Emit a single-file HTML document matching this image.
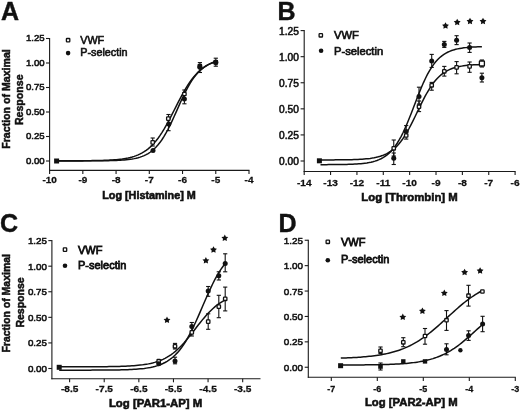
<!DOCTYPE html>
<html><head><meta charset="utf-8"><style>
html,body{margin:0;padding:0;background:#fff;width:520px;height:411px;overflow:hidden}
svg{display:block;will-change:transform}
text{font-family:"Liberation Sans", sans-serif;fill:#111;stroke:#111;stroke-width:0.3px}
</style></head><body>
<svg width="520" height="411" viewBox="0 0 520 411">
<rect width="520" height="411" fill="#fff"/>
<text x="1.00" y="20.00" font-size="25" font-weight="bold" text-anchor="start" style="stroke-width:0.4px">A</text>
<text x="277.50" y="19.80" font-size="25" font-weight="bold" text-anchor="start" style="stroke-width:0.4px">B</text>
<text x="0.00" y="232.30" font-size="25" font-weight="bold" text-anchor="start" style="stroke-width:0.4px">C</text>
<text x="278.50" y="231.50" font-size="25" font-weight="bold" text-anchor="start" style="stroke-width:0.4px">D</text>
<line x1="49.60" y1="38.00" x2="49.60" y2="170.90" stroke="#1a1a1a" stroke-width="1.1"/>
<line x1="46.00" y1="38.50" x2="49.60" y2="38.50" stroke="#1a1a1a" stroke-width="1.1"/>
<text x="44.60" y="41.16" font-size="9.6" font-weight="normal" text-anchor="end" style="stroke-width:0.55px">1.25</text>
<line x1="46.00" y1="63.00" x2="49.60" y2="63.00" stroke="#1a1a1a" stroke-width="1.1"/>
<text x="44.60" y="65.66" font-size="9.6" font-weight="normal" text-anchor="end" style="stroke-width:0.55px">1.00</text>
<line x1="46.00" y1="87.50" x2="49.60" y2="87.50" stroke="#1a1a1a" stroke-width="1.1"/>
<text x="44.60" y="90.16" font-size="9.6" font-weight="normal" text-anchor="end" style="stroke-width:0.55px">0.75</text>
<line x1="46.00" y1="112.00" x2="49.60" y2="112.00" stroke="#1a1a1a" stroke-width="1.1"/>
<text x="44.60" y="114.66" font-size="9.6" font-weight="normal" text-anchor="end" style="stroke-width:0.55px">0.50</text>
<line x1="46.00" y1="136.50" x2="49.60" y2="136.50" stroke="#1a1a1a" stroke-width="1.1"/>
<text x="44.60" y="139.16" font-size="9.6" font-weight="normal" text-anchor="end" style="stroke-width:0.55px">0.25</text>
<line x1="46.00" y1="161.00" x2="49.60" y2="161.00" stroke="#1a1a1a" stroke-width="1.1"/>
<text x="44.60" y="163.66" font-size="9.6" font-weight="normal" text-anchor="end" style="stroke-width:0.55px">0.00</text>
<line x1="49.10" y1="170.40" x2="249.50" y2="170.40" stroke="#1a1a1a" stroke-width="1.1"/>
<line x1="49.60" y1="170.40" x2="49.60" y2="174.00" stroke="#1a1a1a" stroke-width="1.1"/>
<text transform="translate(49.60,183.30) scale(1,0.86)" font-size="10.0" font-weight="bold" text-anchor="middle">-10</text>
<line x1="82.83" y1="170.40" x2="82.83" y2="174.00" stroke="#1a1a1a" stroke-width="1.1"/>
<text transform="translate(82.83,183.30) scale(1,0.86)" font-size="10.0" font-weight="bold" text-anchor="middle">-9</text>
<line x1="116.07" y1="170.40" x2="116.07" y2="174.00" stroke="#1a1a1a" stroke-width="1.1"/>
<text transform="translate(116.07,183.30) scale(1,0.86)" font-size="10.0" font-weight="bold" text-anchor="middle">-8</text>
<line x1="149.30" y1="170.40" x2="149.30" y2="174.00" stroke="#1a1a1a" stroke-width="1.1"/>
<text transform="translate(149.30,183.30) scale(1,0.86)" font-size="10.0" font-weight="bold" text-anchor="middle">-7</text>
<line x1="182.53" y1="170.40" x2="182.53" y2="174.00" stroke="#1a1a1a" stroke-width="1.1"/>
<text transform="translate(182.53,183.30) scale(1,0.86)" font-size="10.0" font-weight="bold" text-anchor="middle">-6</text>
<line x1="215.77" y1="170.40" x2="215.77" y2="174.00" stroke="#1a1a1a" stroke-width="1.1"/>
<text transform="translate(215.77,183.30) scale(1,0.86)" font-size="10.0" font-weight="bold" text-anchor="middle">-5</text>
<line x1="249.00" y1="170.40" x2="249.00" y2="174.00" stroke="#1a1a1a" stroke-width="1.1"/>
<text transform="translate(249.00,183.30) scale(1,0.86)" font-size="10.0" font-weight="bold" text-anchor="middle">-4</text>
<text transform="translate(10.2,99.0) rotate(-90)" font-size="10.6" font-weight="bold" text-anchor="middle" style="stroke-width:0.5px">Fraction of Maximal</text>
<text transform="translate(23.0,99.8) rotate(-90)" font-size="10.6" font-weight="bold" text-anchor="middle" style="stroke-width:0.5px">Response</text>
<text x="149.00" y="198.80" font-size="10.8" font-weight="bold" text-anchor="middle" style="stroke-width:0.6px">Log [Histamine] M</text>
<rect x="66.40" y="38.50" width="3.4" height="3.4" rx="0.6" fill="#fff" stroke="#111" stroke-width="1.3"/>
<circle cx="68.10" cy="53.10" r="2.3" fill="#111"/>
<text x="80.20" y="43.60" font-size="10.8" font-weight="normal" text-anchor="start" style="stroke-width:0.6px">VWF</text>
<text x="80.20" y="56.00" font-size="10.8" font-weight="normal" text-anchor="start" style="stroke-width:0.6px">P-selectin</text>
<path d="M56.60,160.79 L58.59,160.79 L60.58,160.78 L62.57,160.78 L64.56,160.78 L66.55,160.77 L68.54,160.77 L70.53,160.76 L72.52,160.76 L74.51,160.75 L76.50,160.74 L78.49,160.73 L80.48,160.72 L82.47,160.71 L84.46,160.70 L86.45,160.68 L88.44,160.66 L90.43,160.64 L92.42,160.61 L94.41,160.58 L96.40,160.54 L98.39,160.50 L100.38,160.45 L102.37,160.39 L104.36,160.33 L106.35,160.25 L108.34,160.16 L110.33,160.06 L112.32,159.94 L114.31,159.80 L116.30,159.63 L118.29,159.44 L120.28,159.22 L122.27,158.97 L124.26,158.67 L126.25,158.33 L128.24,157.94 L130.23,157.48 L132.22,156.96 L134.21,156.35 L136.20,155.65 L138.19,154.86 L140.18,153.94 L142.17,152.90 L144.16,151.72 L146.15,150.38 L148.14,148.86 L150.13,147.15 L152.12,145.25 L154.11,143.12 L156.10,140.78 L158.09,138.21 L160.08,135.40 L162.07,132.37 L164.06,129.13 L166.05,125.68 L168.04,122.07 L170.03,118.31 L172.02,114.45 L174.01,110.53 L176.00,106.59 L177.99,102.68 L179.98,98.84 L181.97,95.11 L183.96,91.54 L185.95,88.14 L187.94,84.94 L189.93,81.97 L191.92,79.22 L193.91,76.70 L195.90,74.40 L197.89,72.33 L199.88,70.48 L201.87,68.82 L203.86,67.34 L205.85,66.04 L207.84,64.89 L209.83,63.88 L211.82,62.99 L213.81,62.22 L215.80,61.55" fill="none" stroke="#111" stroke-width="1.5"/>
<path d="M56.60,160.90 L58.59,160.90 L60.58,160.90 L62.57,160.90 L64.56,160.89 L66.55,160.89 L68.54,160.89 L70.53,160.89 L72.52,160.89 L74.51,160.89 L76.50,160.89 L78.49,160.88 L80.48,160.88 L82.47,160.88 L84.46,160.87 L86.45,160.87 L88.44,160.86 L90.43,160.85 L92.42,160.84 L94.41,160.83 L96.40,160.82 L98.39,160.80 L100.38,160.78 L102.37,160.76 L104.36,160.73 L106.35,160.70 L108.34,160.66 L110.33,160.62 L112.32,160.56 L114.31,160.50 L116.30,160.42 L118.29,160.33 L120.28,160.22 L122.27,160.10 L124.26,159.94 L126.25,159.76 L128.24,159.55 L130.23,159.29 L132.22,158.99 L134.21,158.63 L136.20,158.21 L138.19,157.71 L140.18,157.12 L142.17,156.42 L144.16,155.61 L146.15,154.66 L148.14,153.55 L150.13,152.26 L152.12,150.76 L154.11,149.04 L156.10,147.08 L158.09,144.84 L160.08,142.33 L162.07,139.51 L164.06,136.39 L166.05,132.97 L168.04,129.27 L170.03,125.31 L172.02,121.14 L174.01,116.80 L176.00,112.35 L177.99,107.86 L179.98,103.39 L181.97,99.02 L183.96,94.81 L185.95,90.80 L187.94,87.05 L189.93,83.57 L191.92,80.39 L193.91,77.51 L195.90,74.93 L197.89,72.64 L199.88,70.62 L201.87,68.85 L203.86,67.31 L205.85,65.98 L207.84,64.84 L209.83,63.86 L211.82,63.01 L213.81,62.30 L215.80,61.69" fill="none" stroke="#111" stroke-width="1.5"/>
<rect x="54.10" y="158.50" width="5" height="5" fill="#111"/>
<line x1="152.70" y1="138.00" x2="152.70" y2="146.00" stroke="#111" stroke-width="1.1"/>
<line x1="150.60" y1="138.00" x2="154.80" y2="138.00" stroke="#111" stroke-width="1.1"/>
<line x1="150.60" y1="146.00" x2="154.80" y2="146.00" stroke="#111" stroke-width="1.1"/>
<rect x="151.00" y="140.70" width="3.4" height="3.4" rx="0.6" fill="#fff" stroke="#111" stroke-width="1.3"/>
<circle cx="153.00" cy="150.60" r="2.5" fill="#111"/>
<line x1="168.50" y1="114.50" x2="168.50" y2="130.70" stroke="#111" stroke-width="1.1"/>
<line x1="166.40" y1="114.50" x2="170.60" y2="114.50" stroke="#111" stroke-width="1.1"/>
<line x1="166.40" y1="130.70" x2="170.60" y2="130.70" stroke="#111" stroke-width="1.1"/>
<rect x="166.60" y="116.90" width="3.4" height="3.4" rx="0.6" fill="#fff" stroke="#111" stroke-width="1.3"/>
<circle cx="168.80" cy="123.90" r="2.5" fill="#111"/>
<line x1="184.40" y1="90.00" x2="184.40" y2="103.80" stroke="#111" stroke-width="1.1"/>
<line x1="182.30" y1="90.00" x2="186.50" y2="90.00" stroke="#111" stroke-width="1.1"/>
<line x1="182.30" y1="103.80" x2="186.50" y2="103.80" stroke="#111" stroke-width="1.1"/>
<rect x="182.70" y="92.30" width="3.4" height="3.4" rx="0.6" fill="#fff" stroke="#111" stroke-width="1.3"/>
<circle cx="184.40" cy="99.00" r="2.5" fill="#111"/>
<line x1="199.90" y1="62.60" x2="199.90" y2="72.50" stroke="#111" stroke-width="1.1"/>
<line x1="197.80" y1="62.60" x2="202.00" y2="62.60" stroke="#111" stroke-width="1.1"/>
<line x1="197.80" y1="72.50" x2="202.00" y2="72.50" stroke="#111" stroke-width="1.1"/>
<rect x="198.20" y="64.30" width="3.4" height="3.4" rx="0.6" fill="#fff" stroke="#111" stroke-width="1.3"/>
<circle cx="199.90" cy="67.20" r="2.5" fill="#111"/>
<rect x="197.80" y="64.50" width="4.2" height="4.2" fill="#111"/>
<line x1="215.80" y1="58.20" x2="215.80" y2="66.20" stroke="#111" stroke-width="1.1"/>
<line x1="213.70" y1="58.20" x2="217.90" y2="58.20" stroke="#111" stroke-width="1.1"/>
<line x1="213.70" y1="66.20" x2="217.90" y2="66.20" stroke="#111" stroke-width="1.1"/>
<rect x="214.10" y="60.50" width="3.4" height="3.4" rx="0.6" fill="#fff" stroke="#111" stroke-width="1.3"/>
<circle cx="215.80" cy="62.40" r="2.5" fill="#111"/>
<rect x="213.70" y="60.20" width="4.2" height="4.2" fill="#111"/>
<line x1="304.20" y1="30.10" x2="304.20" y2="172.00" stroke="#1a1a1a" stroke-width="1.1"/>
<line x1="300.60" y1="30.60" x2="304.20" y2="30.60" stroke="#1a1a1a" stroke-width="1.1"/>
<text x="298.90" y="35.07" font-size="10.2" font-weight="normal" text-anchor="end" style="stroke-width:0.55px">1.25</text>
<line x1="300.60" y1="56.68" x2="304.20" y2="56.68" stroke="#1a1a1a" stroke-width="1.1"/>
<text x="298.90" y="61.15" font-size="10.2" font-weight="normal" text-anchor="end" style="stroke-width:0.55px">1.00</text>
<line x1="300.60" y1="82.76" x2="304.20" y2="82.76" stroke="#1a1a1a" stroke-width="1.1"/>
<text x="298.90" y="87.23" font-size="10.2" font-weight="normal" text-anchor="end" style="stroke-width:0.55px">0.75</text>
<line x1="300.60" y1="108.84" x2="304.20" y2="108.84" stroke="#1a1a1a" stroke-width="1.1"/>
<text x="298.90" y="113.31" font-size="10.2" font-weight="normal" text-anchor="end" style="stroke-width:0.55px">0.50</text>
<line x1="300.60" y1="134.92" x2="304.20" y2="134.92" stroke="#1a1a1a" stroke-width="1.1"/>
<text x="298.90" y="139.39" font-size="10.2" font-weight="normal" text-anchor="end" style="stroke-width:0.55px">0.25</text>
<line x1="300.60" y1="161.00" x2="304.20" y2="161.00" stroke="#1a1a1a" stroke-width="1.1"/>
<text x="298.90" y="165.47" font-size="10.2" font-weight="normal" text-anchor="end" style="stroke-width:0.55px">0.00</text>
<line x1="303.70" y1="171.50" x2="515.60" y2="171.50" stroke="#1a1a1a" stroke-width="1.1"/>
<line x1="304.20" y1="171.50" x2="304.20" y2="175.10" stroke="#1a1a1a" stroke-width="1.1"/>
<text transform="translate(304.20,186.20) scale(1,0.86)" font-size="10.1" font-weight="bold" text-anchor="middle">-14</text>
<line x1="330.56" y1="171.50" x2="330.56" y2="175.10" stroke="#1a1a1a" stroke-width="1.1"/>
<text transform="translate(330.56,186.20) scale(1,0.86)" font-size="10.1" font-weight="bold" text-anchor="middle">-13</text>
<line x1="356.93" y1="171.50" x2="356.93" y2="175.10" stroke="#1a1a1a" stroke-width="1.1"/>
<text transform="translate(356.93,186.20) scale(1,0.86)" font-size="10.1" font-weight="bold" text-anchor="middle">-12</text>
<line x1="383.29" y1="171.50" x2="383.29" y2="175.10" stroke="#1a1a1a" stroke-width="1.1"/>
<text transform="translate(383.29,186.20) scale(1,0.86)" font-size="10.1" font-weight="bold" text-anchor="middle">-11</text>
<line x1="409.65" y1="171.50" x2="409.65" y2="175.10" stroke="#1a1a1a" stroke-width="1.1"/>
<text transform="translate(409.65,186.20) scale(1,0.86)" font-size="10.1" font-weight="bold" text-anchor="middle">-10</text>
<line x1="436.01" y1="171.50" x2="436.01" y2="175.10" stroke="#1a1a1a" stroke-width="1.1"/>
<text transform="translate(436.01,186.20) scale(1,0.86)" font-size="10.1" font-weight="bold" text-anchor="middle">-9</text>
<line x1="462.38" y1="171.50" x2="462.38" y2="175.10" stroke="#1a1a1a" stroke-width="1.1"/>
<text transform="translate(462.38,186.20) scale(1,0.86)" font-size="10.1" font-weight="bold" text-anchor="middle">-8</text>
<line x1="488.74" y1="171.50" x2="488.74" y2="175.10" stroke="#1a1a1a" stroke-width="1.1"/>
<text transform="translate(488.74,186.20) scale(1,0.86)" font-size="10.1" font-weight="bold" text-anchor="middle">-7</text>
<line x1="515.10" y1="171.50" x2="515.10" y2="175.10" stroke="#1a1a1a" stroke-width="1.1"/>
<text transform="translate(515.10,186.20) scale(1,0.86)" font-size="10.1" font-weight="bold" text-anchor="middle">-6</text>
<text x="409.50" y="200.60" font-size="11.35" font-weight="bold" text-anchor="middle" style="stroke-width:0.6px">Log [Thrombin] M</text>
<rect x="319.10" y="33.60" width="3.4" height="3.4" rx="0.6" fill="#fff" stroke="#111" stroke-width="1.3"/>
<circle cx="321.10" cy="50.80" r="2.3" fill="#111"/>
<text x="334.00" y="39.40" font-size="11.2" font-weight="normal" text-anchor="start" style="stroke-width:0.7px">VWF</text>
<text x="334.00" y="54.60" font-size="11.2" font-weight="normal" text-anchor="start" style="stroke-width:0.7px">P-selectin</text>
<path d="M319.40,159.93 L321.43,159.93 L323.46,159.92 L325.49,159.92 L327.52,159.91 L329.56,159.90 L331.59,159.90 L333.62,159.88 L335.65,159.87 L337.68,159.86 L339.71,159.84 L341.74,159.82 L343.77,159.79 L345.81,159.76 L347.84,159.73 L349.87,159.68 L351.90,159.63 L353.93,159.57 L355.96,159.49 L357.99,159.41 L360.02,159.30 L362.06,159.18 L364.09,159.03 L366.12,158.85 L368.15,158.64 L370.18,158.40 L372.21,158.10 L374.24,157.75 L376.27,157.33 L378.31,156.84 L380.34,156.27 L382.37,155.58 L384.40,154.78 L386.43,153.85 L388.46,152.75 L390.49,151.48 L392.52,150.01 L394.56,148.32 L396.59,146.39 L398.62,144.19 L400.65,141.72 L402.68,138.96 L404.71,135.92 L406.74,132.59 L408.77,129.00 L410.81,125.18 L412.84,121.17 L414.87,117.03 L416.90,112.80 L418.93,108.57 L420.96,104.39 L422.99,100.32 L425.02,96.43 L427.06,92.75 L429.09,89.33 L431.12,86.18 L433.15,83.32 L435.18,80.75 L437.21,78.46 L439.24,76.44 L441.27,74.66 L443.31,73.11 L445.34,71.77 L447.37,70.62 L449.40,69.63 L451.43,68.78 L453.46,68.06 L455.49,67.45 L457.52,66.93 L459.56,66.49 L461.59,66.12 L463.62,65.80 L465.65,65.54 L467.68,65.32 L469.71,65.13 L471.74,64.97 L473.77,64.84 L475.81,64.73 L477.84,64.63 L479.87,64.56 L481.90,64.49" fill="none" stroke="#111" stroke-width="1.5"/>
<path d="M320.50,164.65 L322.52,164.64 L324.54,164.64 L326.55,164.63 L328.57,164.62 L330.59,164.61 L332.61,164.59 L334.62,164.58 L336.64,164.56 L338.66,164.53 L340.68,164.50 L342.69,164.47 L344.71,164.43 L346.73,164.38 L348.75,164.32 L350.76,164.25 L352.78,164.17 L354.80,164.07 L356.81,163.95 L358.83,163.80 L360.85,163.63 L362.87,163.43 L364.88,163.19 L366.90,162.91 L368.92,162.57 L370.94,162.16 L372.95,161.68 L374.97,161.11 L376.99,160.44 L379.01,159.65 L381.02,158.72 L383.04,157.62 L385.06,156.34 L387.08,154.85 L389.10,153.12 L391.11,151.12 L393.13,148.82 L395.15,146.21 L397.16,143.26 L399.18,139.95 L401.20,136.28 L403.22,132.25 L405.24,127.89 L407.25,123.22 L409.27,118.30 L411.29,113.19 L413.30,107.95 L415.32,102.68 L417.34,97.45 L419.36,92.35 L421.38,87.45 L423.39,82.81 L425.41,78.47 L427.43,74.47 L429.44,70.83 L431.46,67.55 L433.48,64.63 L435.50,62.04 L437.51,59.78 L439.53,57.80 L441.55,56.09 L443.57,54.61 L445.58,53.35 L447.60,52.27 L449.62,51.35 L451.64,50.57 L453.65,49.91 L455.67,49.35 L457.69,48.87 L459.71,48.47 L461.72,48.14 L463.74,47.86 L465.76,47.62 L467.78,47.42 L469.79,47.25 L471.81,47.11 L473.83,47.00 L475.85,46.90 L477.87,46.81 L479.88,46.75 L481.90,46.69" fill="none" stroke="#111" stroke-width="1.5"/>
<rect x="316.90" y="158.30" width="5" height="5" fill="#111"/>
<line x1="393.75" y1="140.00" x2="393.75" y2="156.00" stroke="#111" stroke-width="1.1"/>
<line x1="391.65" y1="140.00" x2="395.85" y2="140.00" stroke="#111" stroke-width="1.1"/>
<line x1="391.65" y1="156.00" x2="395.85" y2="156.00" stroke="#111" stroke-width="1.1"/>
<line x1="393.75" y1="153.00" x2="393.75" y2="164.50" stroke="#111" stroke-width="1.1"/>
<line x1="391.65" y1="153.00" x2="395.85" y2="153.00" stroke="#111" stroke-width="1.1"/>
<line x1="391.65" y1="164.50" x2="395.85" y2="164.50" stroke="#111" stroke-width="1.1"/>
<rect x="392.05" y="146.60" width="3.4" height="3.4" rx="0.6" fill="#fff" stroke="#111" stroke-width="1.3"/>
<circle cx="393.75" cy="158.20" r="2.5" fill="#111"/>
<line x1="406.20" y1="125.60" x2="406.20" y2="139.10" stroke="#111" stroke-width="1.1"/>
<line x1="404.10" y1="125.60" x2="408.30" y2="125.60" stroke="#111" stroke-width="1.1"/>
<line x1="404.10" y1="139.10" x2="408.30" y2="139.10" stroke="#111" stroke-width="1.1"/>
<rect x="404.50" y="133.80" width="3.4" height="3.4" rx="0.6" fill="#fff" stroke="#111" stroke-width="1.3"/>
<circle cx="406.20" cy="131.50" r="2.5" fill="#111"/>
<line x1="419.00" y1="87.20" x2="419.00" y2="104.00" stroke="#111" stroke-width="1.1"/>
<line x1="416.90" y1="87.20" x2="421.10" y2="87.20" stroke="#111" stroke-width="1.1"/>
<line x1="416.90" y1="104.00" x2="421.10" y2="104.00" stroke="#111" stroke-width="1.1"/>
<circle cx="419.00" cy="96.60" r="2.5" fill="#111"/>
<line x1="419.00" y1="101.00" x2="419.00" y2="111.60" stroke="#111" stroke-width="1.1"/>
<line x1="416.90" y1="101.00" x2="421.10" y2="101.00" stroke="#111" stroke-width="1.1"/>
<line x1="416.90" y1="111.60" x2="421.10" y2="111.60" stroke="#111" stroke-width="1.1"/>
<rect x="417.30" y="105.00" width="3.4" height="3.4" rx="0.6" fill="#fff" stroke="#111" stroke-width="1.3"/>
<line x1="431.70" y1="54.40" x2="431.70" y2="67.40" stroke="#111" stroke-width="1.1"/>
<line x1="429.60" y1="54.40" x2="433.80" y2="54.40" stroke="#111" stroke-width="1.1"/>
<line x1="429.60" y1="67.40" x2="433.80" y2="67.40" stroke="#111" stroke-width="1.1"/>
<circle cx="431.70" cy="61.00" r="2.5" fill="#111"/>
<line x1="431.70" y1="82.40" x2="431.70" y2="90.20" stroke="#111" stroke-width="1.1"/>
<line x1="429.60" y1="82.40" x2="433.80" y2="82.40" stroke="#111" stroke-width="1.1"/>
<line x1="429.60" y1="90.20" x2="433.80" y2="90.20" stroke="#111" stroke-width="1.1"/>
<rect x="430.00" y="83.60" width="3.4" height="3.4" rx="0.6" fill="#fff" stroke="#111" stroke-width="1.3"/>
<line x1="444.30" y1="41.40" x2="444.30" y2="47.40" stroke="#111" stroke-width="1.1"/>
<line x1="442.20" y1="41.40" x2="446.40" y2="41.40" stroke="#111" stroke-width="1.1"/>
<line x1="442.20" y1="47.40" x2="446.40" y2="47.40" stroke="#111" stroke-width="1.1"/>
<circle cx="444.30" cy="44.40" r="2.5" fill="#111"/>
<line x1="444.30" y1="66.40" x2="444.30" y2="76.10" stroke="#111" stroke-width="1.1"/>
<line x1="442.20" y1="66.40" x2="446.40" y2="66.40" stroke="#111" stroke-width="1.1"/>
<line x1="442.20" y1="76.10" x2="446.40" y2="76.10" stroke="#111" stroke-width="1.1"/>
<rect x="442.60" y="69.60" width="3.4" height="3.4" rx="0.6" fill="#fff" stroke="#111" stroke-width="1.3"/>
<line x1="456.60" y1="35.70" x2="456.60" y2="44.60" stroke="#111" stroke-width="1.1"/>
<line x1="454.50" y1="35.70" x2="458.70" y2="35.70" stroke="#111" stroke-width="1.1"/>
<line x1="454.50" y1="44.60" x2="458.70" y2="44.60" stroke="#111" stroke-width="1.1"/>
<circle cx="456.60" cy="40.20" r="2.5" fill="#111"/>
<line x1="456.60" y1="61.60" x2="456.60" y2="73.80" stroke="#111" stroke-width="1.1"/>
<line x1="454.50" y1="61.60" x2="458.70" y2="61.60" stroke="#111" stroke-width="1.1"/>
<line x1="454.50" y1="73.80" x2="458.70" y2="73.80" stroke="#111" stroke-width="1.1"/>
<rect x="454.90" y="65.70" width="3.4" height="3.4" rx="0.6" fill="#fff" stroke="#111" stroke-width="1.3"/>
<line x1="469.60" y1="43.00" x2="469.60" y2="52.40" stroke="#111" stroke-width="1.1"/>
<line x1="467.50" y1="43.00" x2="471.70" y2="43.00" stroke="#111" stroke-width="1.1"/>
<line x1="467.50" y1="52.40" x2="471.70" y2="52.40" stroke="#111" stroke-width="1.1"/>
<circle cx="469.60" cy="47.50" r="2.5" fill="#111"/>
<line x1="469.60" y1="62.00" x2="469.60" y2="72.30" stroke="#111" stroke-width="1.1"/>
<line x1="467.50" y1="62.00" x2="471.70" y2="62.00" stroke="#111" stroke-width="1.1"/>
<line x1="467.50" y1="72.30" x2="471.70" y2="72.30" stroke="#111" stroke-width="1.1"/>
<rect x="467.90" y="64.70" width="3.4" height="3.4" rx="0.6" fill="#fff" stroke="#111" stroke-width="1.3"/>
<line x1="481.90" y1="73.20" x2="481.90" y2="82.00" stroke="#111" stroke-width="1.1"/>
<line x1="479.80" y1="73.20" x2="484.00" y2="73.20" stroke="#111" stroke-width="1.1"/>
<line x1="479.80" y1="82.00" x2="484.00" y2="82.00" stroke="#111" stroke-width="1.1"/>
<circle cx="481.90" cy="77.70" r="2.5" fill="#111"/>
<line x1="481.90" y1="60.00" x2="481.90" y2="67.00" stroke="#111" stroke-width="1.1"/>
<line x1="479.80" y1="60.00" x2="484.00" y2="60.00" stroke="#111" stroke-width="1.1"/>
<line x1="479.80" y1="67.00" x2="484.00" y2="67.00" stroke="#111" stroke-width="1.1"/>
<rect x="479.40" y="61.00" width="5" height="5" rx="0.6" fill="#fff" stroke="#111" stroke-width="1.3"/>
<polygon points="445.50,22.20 446.62,24.26 448.92,24.69 447.31,26.39 447.62,28.71 445.50,27.70 443.38,28.71 443.69,26.39 442.08,24.69 444.38,24.26" fill="#111"/>
<polygon points="457.20,18.80 458.32,20.86 460.62,21.29 459.01,22.99 459.32,25.31 457.20,24.30 455.08,25.31 455.39,22.99 453.78,21.29 456.08,20.86" fill="#111"/>
<polygon points="470.00,17.80 471.12,19.86 473.42,20.29 471.81,21.99 472.12,24.31 470.00,23.30 467.88,24.31 468.19,21.99 466.58,20.29 468.88,19.86" fill="#111"/>
<polygon points="483.00,17.80 484.12,19.86 486.42,20.29 484.81,21.99 485.12,24.31 483.00,23.30 480.88,24.31 481.19,21.99 479.58,20.29 481.88,19.86" fill="#111"/>
<line x1="51.90" y1="240.10" x2="51.90" y2="379.20" stroke="#1a1a1a" stroke-width="1.1"/>
<line x1="48.30" y1="240.60" x2="51.90" y2="240.60" stroke="#1a1a1a" stroke-width="1.1"/>
<text x="47.00" y="244.13" font-size="9.8" font-weight="normal" text-anchor="end" style="stroke-width:0.55px">1.25</text>
<line x1="48.30" y1="266.18" x2="51.90" y2="266.18" stroke="#1a1a1a" stroke-width="1.1"/>
<text x="47.00" y="269.71" font-size="9.8" font-weight="normal" text-anchor="end" style="stroke-width:0.55px">1.00</text>
<line x1="48.30" y1="291.76" x2="51.90" y2="291.76" stroke="#1a1a1a" stroke-width="1.1"/>
<text x="47.00" y="295.29" font-size="9.8" font-weight="normal" text-anchor="end" style="stroke-width:0.55px">0.75</text>
<line x1="48.30" y1="317.34" x2="51.90" y2="317.34" stroke="#1a1a1a" stroke-width="1.1"/>
<text x="47.00" y="320.87" font-size="9.8" font-weight="normal" text-anchor="end" style="stroke-width:0.55px">0.50</text>
<line x1="48.30" y1="342.92" x2="51.90" y2="342.92" stroke="#1a1a1a" stroke-width="1.1"/>
<text x="47.00" y="346.45" font-size="9.8" font-weight="normal" text-anchor="end" style="stroke-width:0.55px">0.25</text>
<line x1="48.30" y1="368.50" x2="51.90" y2="368.50" stroke="#1a1a1a" stroke-width="1.1"/>
<text x="47.00" y="372.03" font-size="9.8" font-weight="normal" text-anchor="end" style="stroke-width:0.55px">0.00</text>
<line x1="51.40" y1="378.70" x2="260.50" y2="378.70" stroke="#1a1a1a" stroke-width="1.1"/>
<line x1="69.61" y1="378.70" x2="69.61" y2="382.30" stroke="#1a1a1a" stroke-width="1.1"/>
<text transform="translate(69.61,392.00) scale(1,0.86)" font-size="10.1" font-weight="bold" text-anchor="middle">-8.5</text>
<line x1="104.22" y1="378.70" x2="104.22" y2="382.30" stroke="#1a1a1a" stroke-width="1.1"/>
<text transform="translate(104.22,392.00) scale(1,0.86)" font-size="10.1" font-weight="bold" text-anchor="middle">-7.5</text>
<line x1="138.84" y1="378.70" x2="138.84" y2="382.30" stroke="#1a1a1a" stroke-width="1.1"/>
<text transform="translate(138.84,392.00) scale(1,0.86)" font-size="10.1" font-weight="bold" text-anchor="middle">-6.5</text>
<line x1="173.46" y1="378.70" x2="173.46" y2="382.30" stroke="#1a1a1a" stroke-width="1.1"/>
<text transform="translate(173.46,392.00) scale(1,0.86)" font-size="10.1" font-weight="bold" text-anchor="middle">-5.5</text>
<line x1="208.07" y1="378.70" x2="208.07" y2="382.30" stroke="#1a1a1a" stroke-width="1.1"/>
<text transform="translate(208.07,392.00) scale(1,0.86)" font-size="10.1" font-weight="bold" text-anchor="middle">-4.5</text>
<line x1="242.69" y1="378.70" x2="242.69" y2="382.30" stroke="#1a1a1a" stroke-width="1.1"/>
<text transform="translate(242.69,392.00) scale(1,0.86)" font-size="10.1" font-weight="bold" text-anchor="middle">-3.5</text>
<text transform="translate(10.4,303.3) rotate(-90)" font-size="10.5" font-weight="bold" text-anchor="middle" style="stroke-width:0.5px">Fraction of Maximal</text>
<text transform="translate(24,302.5) rotate(-90)" font-size="10.5" font-weight="bold" text-anchor="middle" style="stroke-width:0.5px">Response</text>
<text x="155.60" y="406.60" font-size="11.4" font-weight="bold" text-anchor="middle" style="stroke-width:0.6px">Log [PAR1-AP] M</text>
<rect x="63.30" y="247.90" width="3.4" height="3.4" rx="0.6" fill="#fff" stroke="#111" stroke-width="1.3"/>
<circle cx="65.00" cy="265.80" r="2.3" fill="#111"/>
<text x="78.00" y="253.80" font-size="11.0" font-weight="normal" text-anchor="start" style="stroke-width:0.8px">VWF</text>
<text x="78.00" y="269.20" font-size="11.0" font-weight="normal" text-anchor="start" style="stroke-width:0.8px">P-selectin</text>
<path d="M59.20,366.80 L61.28,366.80 L63.35,366.80 L65.42,366.80 L67.50,366.80 L69.58,366.80 L71.65,366.79 L73.73,366.79 L75.80,366.79 L77.88,366.79 L79.95,366.78 L82.03,366.78 L84.10,366.77 L86.18,366.77 L88.25,366.76 L90.33,366.75 L92.40,366.75 L94.47,366.74 L96.55,366.72 L98.62,366.71 L100.70,366.70 L102.78,366.68 L104.85,366.66 L106.93,366.63 L109.00,366.61 L111.08,366.58 L113.15,366.54 L115.22,366.50 L117.30,366.45 L119.38,366.40 L121.45,366.34 L123.53,366.26 L125.60,366.18 L127.67,366.08 L129.75,365.97 L131.82,365.85 L133.90,365.70 L135.98,365.54 L138.05,365.34 L140.12,365.12 L142.20,364.87 L144.28,364.58 L146.35,364.25 L148.43,363.88 L150.50,363.45 L152.57,362.96 L154.65,362.40 L156.73,361.77 L158.80,361.06 L160.88,360.25 L162.95,359.35 L165.03,358.33 L167.10,357.20 L169.18,355.94 L171.25,354.55 L173.32,353.01 L175.40,351.33 L177.48,349.50 L179.55,347.53 L181.62,345.41 L183.70,343.16 L185.78,340.79 L187.85,338.31 L189.93,335.74 L192.00,333.11 L194.07,330.44 L196.15,327.75 L198.23,325.08 L200.30,322.45 L202.38,319.88 L204.45,317.41 L206.52,315.04 L208.60,312.79 L210.68,310.68 L212.75,308.71 L214.82,306.89 L216.90,305.21 L218.98,303.68 L221.05,302.29 L223.12,301.03 L225.20,299.90" fill="none" stroke="#111" stroke-width="1.5"/>
<path d="M59.20,370.16 L61.28,370.16 L63.35,370.16 L65.42,370.15 L67.50,370.15 L69.58,370.15 L71.65,370.15 L73.73,370.15 L75.80,370.15 L77.88,370.15 L79.95,370.14 L82.03,370.14 L84.10,370.14 L86.18,370.14 L88.25,370.13 L90.33,370.13 L92.40,370.12 L94.47,370.11 L96.55,370.11 L98.62,370.10 L100.70,370.09 L102.78,370.08 L104.85,370.06 L106.93,370.05 L109.00,370.03 L111.08,370.01 L113.15,369.98 L115.22,369.95 L117.30,369.92 L119.38,369.88 L121.45,369.83 L123.53,369.78 L125.60,369.71 L127.67,369.64 L129.75,369.56 L131.82,369.46 L133.90,369.34 L135.98,369.21 L138.05,369.05 L140.12,368.87 L142.20,368.66 L144.28,368.42 L146.35,368.13 L148.43,367.80 L150.50,367.42 L152.57,366.98 L154.65,366.48 L156.73,365.89 L158.80,365.21 L160.88,364.43 L162.95,363.54 L165.03,362.51 L167.10,361.34 L169.18,360.00 L171.25,358.47 L173.32,356.75 L175.40,354.81 L177.48,352.63 L179.55,350.19 L181.62,347.49 L183.70,344.51 L185.78,341.24 L187.85,337.70 L189.93,333.88 L192.00,329.81 L194.07,325.50 L196.15,321.00 L198.23,316.35 L200.30,311.58 L202.38,306.77 L204.45,301.95 L206.52,297.20 L208.60,292.55 L210.68,288.07 L212.75,283.78 L214.82,279.72 L216.90,275.93 L218.98,272.41 L221.05,269.17 L223.12,266.21 L225.20,263.53" fill="none" stroke="#111" stroke-width="1.5"/>
<rect x="56.70" y="364.80" width="5" height="5" fill="#111"/>
<rect x="157.00" y="359.50" width="3.4" height="3.4" rx="0.6" fill="#fff" stroke="#111" stroke-width="1.3"/>
<circle cx="158.70" cy="363.80" r="2.5" fill="#111"/>
<line x1="175.00" y1="343.40" x2="175.00" y2="349.00" stroke="#111" stroke-width="1.1"/>
<line x1="172.90" y1="343.40" x2="177.10" y2="343.40" stroke="#111" stroke-width="1.1"/>
<line x1="172.90" y1="349.00" x2="177.10" y2="349.00" stroke="#111" stroke-width="1.1"/>
<rect x="173.30" y="344.60" width="3.4" height="3.4" rx="0.6" fill="#fff" stroke="#111" stroke-width="1.3"/>
<line x1="175.00" y1="357.20" x2="175.00" y2="363.80" stroke="#111" stroke-width="1.1"/>
<line x1="172.90" y1="357.20" x2="177.10" y2="357.20" stroke="#111" stroke-width="1.1"/>
<line x1="172.90" y1="363.80" x2="177.10" y2="363.80" stroke="#111" stroke-width="1.1"/>
<circle cx="175.00" cy="360.90" r="2.5" fill="#111"/>
<line x1="191.80" y1="322.50" x2="191.80" y2="336.00" stroke="#111" stroke-width="1.1"/>
<line x1="189.70" y1="322.50" x2="193.90" y2="322.50" stroke="#111" stroke-width="1.1"/>
<line x1="189.70" y1="336.00" x2="193.90" y2="336.00" stroke="#111" stroke-width="1.1"/>
<circle cx="191.80" cy="326.60" r="2.5" fill="#111"/>
<rect x="190.10" y="330.70" width="3.4" height="3.4" rx="0.6" fill="#fff" stroke="#111" stroke-width="1.3"/>
<line x1="208.20" y1="286.50" x2="208.20" y2="296.30" stroke="#111" stroke-width="1.1"/>
<line x1="206.10" y1="286.50" x2="210.30" y2="286.50" stroke="#111" stroke-width="1.1"/>
<line x1="206.10" y1="296.30" x2="210.30" y2="296.30" stroke="#111" stroke-width="1.1"/>
<circle cx="208.20" cy="291.00" r="2.5" fill="#111"/>
<line x1="208.20" y1="313.80" x2="208.20" y2="329.30" stroke="#111" stroke-width="1.1"/>
<line x1="206.10" y1="313.80" x2="210.30" y2="313.80" stroke="#111" stroke-width="1.1"/>
<line x1="206.10" y1="329.30" x2="210.30" y2="329.30" stroke="#111" stroke-width="1.1"/>
<rect x="206.50" y="319.90" width="3.4" height="3.4" rx="0.6" fill="#fff" stroke="#111" stroke-width="1.3"/>
<line x1="218.80" y1="271.80" x2="218.80" y2="280.00" stroke="#111" stroke-width="1.1"/>
<line x1="216.70" y1="271.80" x2="220.90" y2="271.80" stroke="#111" stroke-width="1.1"/>
<line x1="216.70" y1="280.00" x2="220.90" y2="280.00" stroke="#111" stroke-width="1.1"/>
<circle cx="218.80" cy="275.80" r="2.5" fill="#111"/>
<line x1="218.80" y1="295.30" x2="218.80" y2="317.70" stroke="#111" stroke-width="1.1"/>
<line x1="216.70" y1="295.30" x2="220.90" y2="295.30" stroke="#111" stroke-width="1.1"/>
<line x1="216.70" y1="317.70" x2="220.90" y2="317.70" stroke="#111" stroke-width="1.1"/>
<rect x="217.10" y="304.90" width="3.4" height="3.4" rx="0.6" fill="#fff" stroke="#111" stroke-width="1.3"/>
<line x1="225.20" y1="253.80" x2="225.20" y2="271.80" stroke="#111" stroke-width="1.1"/>
<line x1="223.10" y1="253.80" x2="227.30" y2="253.80" stroke="#111" stroke-width="1.1"/>
<line x1="223.10" y1="271.80" x2="227.30" y2="271.80" stroke="#111" stroke-width="1.1"/>
<circle cx="225.20" cy="263.40" r="2.5" fill="#111"/>
<line x1="225.20" y1="287.10" x2="225.20" y2="310.90" stroke="#111" stroke-width="1.1"/>
<line x1="223.10" y1="287.10" x2="227.30" y2="287.10" stroke="#111" stroke-width="1.1"/>
<line x1="223.10" y1="310.90" x2="227.30" y2="310.90" stroke="#111" stroke-width="1.1"/>
<rect x="223.50" y="297.10" width="3.4" height="3.4" rx="0.6" fill="#fff" stroke="#111" stroke-width="1.3"/>
<polygon points="167.00,316.60 168.12,318.66 170.42,319.09 168.81,320.79 169.12,323.11 167.00,322.10 164.88,323.11 165.19,320.79 163.58,319.09 165.88,318.66" fill="#111"/>
<polygon points="205.90,257.10 207.02,259.16 209.32,259.59 207.71,261.29 208.02,263.61 205.90,262.60 203.78,263.61 204.09,261.29 202.48,259.59 204.78,259.16" fill="#111"/>
<polygon points="213.50,246.30 214.62,248.36 216.92,248.79 215.31,250.49 215.62,252.81 213.50,251.80 211.38,252.81 211.69,250.49 210.08,248.79 212.38,248.36" fill="#111"/>
<polygon points="224.80,234.60 225.92,236.66 228.22,237.09 226.61,238.79 226.92,241.11 224.80,240.10 222.68,241.11 222.99,238.79 221.38,237.09 223.68,236.66" fill="#111"/>
<line x1="308.30" y1="239.75" x2="308.30" y2="377.80" stroke="#1a1a1a" stroke-width="1.1"/>
<line x1="304.70" y1="240.25" x2="308.30" y2="240.25" stroke="#1a1a1a" stroke-width="1.1"/>
<text x="303.00" y="243.81" font-size="9.9" font-weight="normal" text-anchor="end" style="stroke-width:0.55px">1.25</text>
<line x1="304.70" y1="265.65" x2="308.30" y2="265.65" stroke="#1a1a1a" stroke-width="1.1"/>
<text x="303.00" y="269.21" font-size="9.9" font-weight="normal" text-anchor="end" style="stroke-width:0.55px">1.00</text>
<line x1="304.70" y1="291.05" x2="308.30" y2="291.05" stroke="#1a1a1a" stroke-width="1.1"/>
<text x="303.00" y="294.61" font-size="9.9" font-weight="normal" text-anchor="end" style="stroke-width:0.55px">0.75</text>
<line x1="304.70" y1="316.45" x2="308.30" y2="316.45" stroke="#1a1a1a" stroke-width="1.1"/>
<text x="303.00" y="320.01" font-size="9.9" font-weight="normal" text-anchor="end" style="stroke-width:0.55px">0.50</text>
<line x1="304.70" y1="341.85" x2="308.30" y2="341.85" stroke="#1a1a1a" stroke-width="1.1"/>
<text x="303.00" y="345.41" font-size="9.9" font-weight="normal" text-anchor="end" style="stroke-width:0.55px">0.25</text>
<line x1="304.70" y1="367.25" x2="308.30" y2="367.25" stroke="#1a1a1a" stroke-width="1.1"/>
<text x="303.00" y="370.81" font-size="9.9" font-weight="normal" text-anchor="end" style="stroke-width:0.55px">0.00</text>
<line x1="307.80" y1="377.30" x2="515.80" y2="377.30" stroke="#1a1a1a" stroke-width="1.1"/>
<line x1="331.30" y1="377.30" x2="331.30" y2="380.90" stroke="#1a1a1a" stroke-width="1.1"/>
<text transform="translate(331.30,391.70) scale(1,0.95)" font-size="9.0" font-weight="bold" text-anchor="middle">-7</text>
<line x1="377.30" y1="377.30" x2="377.30" y2="380.90" stroke="#1a1a1a" stroke-width="1.1"/>
<text transform="translate(377.30,391.70) scale(1,0.95)" font-size="9.0" font-weight="bold" text-anchor="middle">-6</text>
<line x1="423.30" y1="377.30" x2="423.30" y2="380.90" stroke="#1a1a1a" stroke-width="1.1"/>
<text transform="translate(423.30,391.70) scale(1,0.95)" font-size="9.0" font-weight="bold" text-anchor="middle">-5</text>
<line x1="469.30" y1="377.30" x2="469.30" y2="380.90" stroke="#1a1a1a" stroke-width="1.1"/>
<text transform="translate(469.30,391.70) scale(1,0.95)" font-size="9.0" font-weight="bold" text-anchor="middle">-4</text>
<line x1="515.30" y1="377.30" x2="515.30" y2="380.90" stroke="#1a1a1a" stroke-width="1.1"/>
<text transform="translate(515.30,391.70) scale(1,0.95)" font-size="9.0" font-weight="bold" text-anchor="middle">-3</text>
<text x="411.30" y="405.80" font-size="11.3" font-weight="bold" text-anchor="middle" style="stroke-width:0.6px">Log [PAR2-AP] M</text>
<rect x="326.10" y="240.10" width="3.4" height="3.4" rx="0.6" fill="#fff" stroke="#111" stroke-width="1.3"/>
<circle cx="327.80" cy="260.30" r="2.3" fill="#111"/>
<text x="341.00" y="245.90" font-size="11.0" font-weight="normal" text-anchor="start" style="stroke-width:0.8px">VWF</text>
<text x="341.00" y="263.30" font-size="11.0" font-weight="normal" text-anchor="start" style="stroke-width:0.8px">P-selectin</text>
<path d="M340.80,358.11 L342.57,358.05 L344.34,357.99 L346.11,357.92 L347.88,357.85 L349.65,357.77 L351.42,357.68 L353.19,357.59 L354.96,357.49 L356.73,357.39 L358.50,357.27 L360.27,357.15 L362.04,357.01 L363.81,356.87 L365.58,356.72 L367.35,356.55 L369.12,356.37 L370.89,356.17 L372.66,355.96 L374.43,355.74 L376.20,355.50 L377.97,355.23 L379.74,354.95 L381.51,354.65 L383.28,354.33 L385.05,353.98 L386.82,353.61 L388.59,353.21 L390.36,352.78 L392.13,352.33 L393.90,351.84 L395.67,351.32 L397.44,350.76 L399.21,350.17 L400.98,349.54 L402.75,348.87 L404.52,348.16 L406.29,347.40 L408.06,346.60 L409.83,345.76 L411.60,344.86 L413.37,343.92 L415.14,342.93 L416.91,341.90 L418.68,340.81 L420.45,339.67 L422.22,338.49 L423.99,337.25 L425.76,335.97 L427.53,334.64 L429.30,333.27 L431.07,331.85 L432.84,330.40 L434.61,328.91 L436.38,327.39 L438.15,325.84 L439.92,324.26 L441.69,322.66 L443.46,321.05 L445.23,319.43 L447.00,317.80 L448.77,316.17 L450.54,314.55 L452.31,312.93 L454.08,311.33 L455.85,309.75 L457.62,308.19 L459.39,306.66 L461.16,305.16 L462.93,303.70 L464.70,302.27 L466.47,300.89 L468.24,299.55 L470.01,298.25 L471.78,297.01 L473.55,295.81 L475.32,294.65 L477.09,293.55 L478.86,292.50 L480.63,291.50 L482.40,290.55" fill="none" stroke="#111" stroke-width="1.5"/>
<path d="M340.80,365.02 L342.57,365.01 L344.35,365.01 L346.12,365.00 L347.89,364.99 L349.66,364.99 L351.44,364.98 L353.21,364.97 L354.98,364.96 L356.75,364.95 L358.53,364.94 L360.30,364.92 L362.07,364.91 L363.84,364.89 L365.62,364.87 L367.39,364.85 L369.16,364.83 L370.93,364.81 L372.71,364.78 L374.48,364.76 L376.25,364.72 L378.02,364.69 L379.80,364.65 L381.57,364.61 L383.34,364.57 L385.11,364.52 L386.88,364.46 L388.66,364.40 L390.43,364.34 L392.20,364.27 L393.98,364.19 L395.75,364.10 L397.52,364.01 L399.29,363.90 L401.06,363.79 L402.84,363.67 L404.61,363.53 L406.38,363.38 L408.16,363.22 L409.93,363.04 L411.70,362.84 L413.47,362.63 L415.25,362.40 L417.02,362.15 L418.79,361.87 L420.56,361.57 L422.34,361.24 L424.11,360.88 L425.88,360.50 L427.65,360.08 L429.43,359.62 L431.20,359.13 L432.97,358.60 L434.74,358.02 L436.51,357.40 L438.29,356.73 L440.06,356.02 L441.83,355.25 L443.61,354.43 L445.38,353.55 L447.15,352.62 L448.92,351.63 L450.70,350.58 L452.47,349.47 L454.24,348.31 L456.01,347.09 L457.79,345.81 L459.56,344.48 L461.33,343.09 L463.10,341.66 L464.88,340.19 L466.65,338.68 L468.42,337.14 L470.19,335.57 L471.97,333.99 L473.74,332.39 L475.51,330.78 L477.28,329.17 L479.06,327.58 L480.83,326.00 L482.60,324.44" fill="none" stroke="#111" stroke-width="1.5"/>
<rect x="338.10" y="363.20" width="5" height="5" fill="#111"/>
<line x1="380.50" y1="347.00" x2="380.50" y2="353.50" stroke="#111" stroke-width="1.1"/>
<line x1="378.40" y1="347.00" x2="382.60" y2="347.00" stroke="#111" stroke-width="1.1"/>
<line x1="378.40" y1="353.50" x2="382.60" y2="353.50" stroke="#111" stroke-width="1.1"/>
<rect x="378.80" y="349.10" width="3.4" height="3.4" rx="0.6" fill="#fff" stroke="#111" stroke-width="1.3"/>
<line x1="380.50" y1="363.00" x2="380.50" y2="370.00" stroke="#111" stroke-width="1.1"/>
<line x1="378.40" y1="363.00" x2="382.60" y2="363.00" stroke="#111" stroke-width="1.1"/>
<line x1="378.40" y1="370.00" x2="382.60" y2="370.00" stroke="#111" stroke-width="1.1"/>
<rect x="378.20" y="364.20" width="4.6" height="4.6" fill="#111"/>
<line x1="403.30" y1="337.70" x2="403.30" y2="346.70" stroke="#111" stroke-width="1.1"/>
<line x1="401.20" y1="337.70" x2="405.40" y2="337.70" stroke="#111" stroke-width="1.1"/>
<line x1="401.20" y1="346.70" x2="405.40" y2="346.70" stroke="#111" stroke-width="1.1"/>
<rect x="401.60" y="340.60" width="3.4" height="3.4" rx="0.6" fill="#fff" stroke="#111" stroke-width="1.3"/>
<rect x="401.10" y="359.20" width="4.4" height="4.4" fill="#111"/>
<line x1="425.00" y1="328.50" x2="425.00" y2="344.20" stroke="#111" stroke-width="1.1"/>
<line x1="422.90" y1="328.50" x2="427.10" y2="328.50" stroke="#111" stroke-width="1.1"/>
<line x1="422.90" y1="344.20" x2="427.10" y2="344.20" stroke="#111" stroke-width="1.1"/>
<rect x="423.30" y="334.30" width="3.4" height="3.4" rx="0.6" fill="#fff" stroke="#111" stroke-width="1.3"/>
<rect x="422.80" y="359.20" width="4.4" height="4.4" fill="#111"/>
<line x1="446.50" y1="310.60" x2="446.50" y2="330.40" stroke="#111" stroke-width="1.1"/>
<line x1="444.40" y1="310.60" x2="448.60" y2="310.60" stroke="#111" stroke-width="1.1"/>
<line x1="444.40" y1="330.40" x2="448.60" y2="330.40" stroke="#111" stroke-width="1.1"/>
<rect x="444.80" y="318.50" width="3.4" height="3.4" rx="0.6" fill="#fff" stroke="#111" stroke-width="1.3"/>
<line x1="446.50" y1="343.80" x2="446.50" y2="354.80" stroke="#111" stroke-width="1.1"/>
<line x1="444.40" y1="343.80" x2="448.60" y2="343.80" stroke="#111" stroke-width="1.1"/>
<line x1="444.40" y1="354.80" x2="448.60" y2="354.80" stroke="#111" stroke-width="1.1"/>
<circle cx="446.50" cy="349.60" r="2.5" fill="#111"/>
<circle cx="460.40" cy="350.30" r="2.2" fill="#111"/>
<line x1="468.50" y1="285.30" x2="468.50" y2="306.10" stroke="#111" stroke-width="1.1"/>
<line x1="466.40" y1="285.30" x2="470.60" y2="285.30" stroke="#111" stroke-width="1.1"/>
<line x1="466.40" y1="306.10" x2="470.60" y2="306.10" stroke="#111" stroke-width="1.1"/>
<rect x="466.80" y="294.00" width="3.4" height="3.4" rx="0.6" fill="#fff" stroke="#111" stroke-width="1.3"/>
<line x1="468.60" y1="330.80" x2="468.60" y2="340.40" stroke="#111" stroke-width="1.1"/>
<line x1="466.50" y1="330.80" x2="470.70" y2="330.80" stroke="#111" stroke-width="1.1"/>
<line x1="466.50" y1="340.40" x2="470.70" y2="340.40" stroke="#111" stroke-width="1.1"/>
<circle cx="468.60" cy="335.60" r="2.5" fill="#111"/>
<rect x="480.70" y="289.80" width="3.4" height="3.4" rx="0.6" fill="#fff" stroke="#111" stroke-width="1.3"/>
<line x1="482.60" y1="316.30" x2="482.60" y2="331.70" stroke="#111" stroke-width="1.1"/>
<line x1="480.50" y1="316.30" x2="484.70" y2="316.30" stroke="#111" stroke-width="1.1"/>
<line x1="480.50" y1="331.70" x2="484.70" y2="331.70" stroke="#111" stroke-width="1.1"/>
<circle cx="482.60" cy="324.10" r="2.5" fill="#111"/>
<polygon points="402.80,313.60 403.92,315.66 406.22,316.09 404.61,317.79 404.92,320.11 402.80,319.10 400.68,320.11 400.99,317.79 399.38,316.09 401.68,315.66" fill="#111"/>
<polygon points="422.40,307.40 423.52,309.46 425.82,309.89 424.21,311.59 424.52,313.91 422.40,312.90 420.28,313.91 420.59,311.59 418.98,309.89 421.28,309.46" fill="#111"/>
<polygon points="444.30,289.60 445.42,291.66 447.72,292.09 446.11,293.79 446.42,296.11 444.30,295.10 442.18,296.11 442.49,293.79 440.88,292.09 443.18,291.66" fill="#111"/>
<polygon points="464.60,268.80 465.72,270.86 468.02,271.29 466.41,272.99 466.72,275.31 464.60,274.30 462.48,275.31 462.79,272.99 461.18,271.29 463.48,270.86" fill="#111"/>
<polygon points="480.10,267.20 481.22,269.26 483.52,269.69 481.91,271.39 482.22,273.71 480.10,272.70 477.98,273.71 478.29,271.39 476.68,269.69 478.98,269.26" fill="#111"/>
</svg>
</body></html>
